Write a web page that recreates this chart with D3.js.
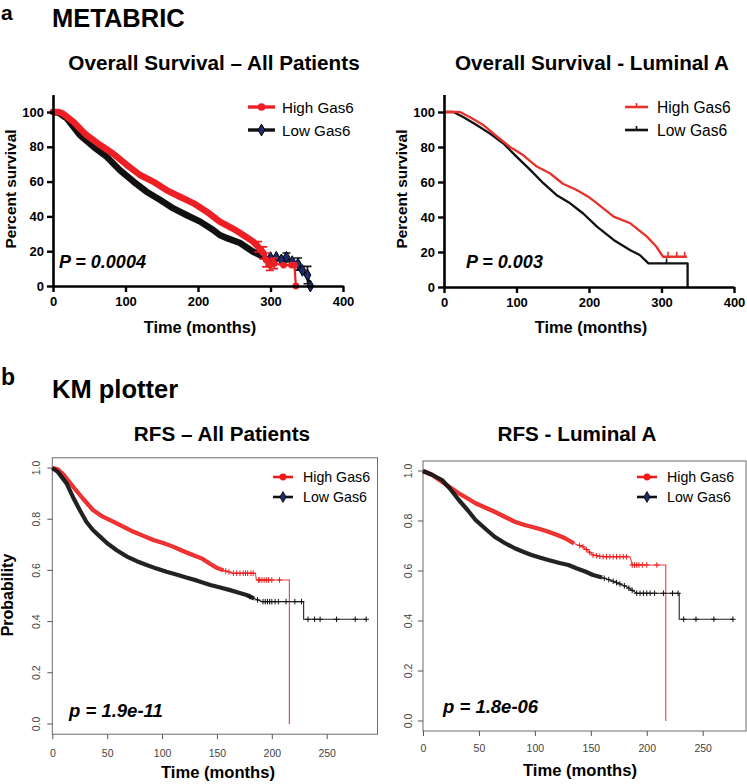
<!DOCTYPE html>
<html><head><meta charset="utf-8">
<script src="https://cdn.jsdelivr.net/npm/d3@7"></script>
<style>
body{margin:0;background:#fff;}
svg{display:block;font-family:"Liberation Sans",Arial,Helvetica,sans-serif;}
</style></head><body>
<svg id="chart" width="747" height="784"></svg>
<script>
// ===== DATA =====
// (a) METABRIC - Overall Survival, All Patients (time in months, percent survival)
const osAllHighT = [0, 8, 14, 28, 46, 65, 83, 102, 120, 138, 157, 175, 194, 212, 230, 248, 258, 267, 276, 283, 290, 294, 299, 305, 318, 329, 333, 335];
const osAllHighS = [100, 100, 99, 94.4, 86.8, 81, 76, 69.5, 63.8, 60, 55, 51.3, 47.5, 42.7, 37, 33, 30.5, 28, 25.5, 22.5, 19, 15, 12, 13, 12, 12, 12, 0];
const osAllLowT = [0, 8, 19, 37, 56, 74, 92, 111, 129, 148, 166, 184, 203, 221, 230, 240, 258, 276, 290, 300, 308, 315, 322, 330, 338, 344, 351, 355];
const osAllLowS = [100, 99.5, 96.4, 86.8, 80, 74.3, 66.7, 60, 54.2, 49.4, 44.6, 40.8, 37, 32.2, 29.3, 27.5, 24.7, 19.7, 16.8, 16.3, 16.5, 15, 16.5, 14, 12.6, 9, 6.3, 0];
const osAllHighErrT = [283, 290, 294, 299, 305];
const osAllHighErrS = [22.5, 19, 15, 12, 13];
const osAllHighErrE = [3, 3.5, 4, 3, 3];
const osAllLowErrT = [322, 338, 351];
const osAllLowErrS = [16.5, 12.6, 6.3];
const osAllLowErrE = [2.5, 3.5, 5];

// (a) METABRIC - Overall Survival, Luminal A
const osLumAHighT = [0, 22, 36, 54, 73, 91, 109, 128, 146, 164, 183, 199, 211, 234, 257, 280, 293, 302, 335];
const osLumAHighS = [100, 100, 97, 92.6, 86, 80, 75.4, 68.8, 65, 59, 55.4, 51.6, 47.8, 40.2, 36.4, 28.8, 23, 17.3, 17.3];
const osLumALowT = [0, 13, 27, 45, 63, 82, 100, 119, 137, 155, 174, 192, 211, 234, 257, 270, 282, 336, 336];
const osLumALowS = [100, 100, 97, 92.6, 87.8, 82, 74.5, 66.9, 59.3, 52.6, 47.8, 42, 34.5, 26.9, 21, 18.3, 13.5, 13.5, 0];
const osLumAHighCensT = [309, 321, 332];
const osLumALowCensT = [307];

// (b) KM plotter - RFS, All Patients (probability)
const rfsAllHighT = [0, 5, 10, 19, 28, 37, 46, 56, 65, 74, 83, 92, 101, 110, 119, 128, 137, 144, 150, 156, 165, 185, 186, 216, 216];
const rfsAllHighS = [1, 0.995, 0.975, 0.927, 0.88, 0.836, 0.81, 0.79, 0.77, 0.751, 0.735, 0.719, 0.707, 0.693, 0.676, 0.66, 0.645, 0.625, 0.61, 0.6, 0.589, 0.589, 0.5625, 0.5625, 0];
const rfsAllLowT = [0, 5, 13, 19, 25, 31, 37, 44, 50, 59, 68, 77, 86, 95, 104, 113, 122, 132, 144, 153, 162, 170, 177, 184, 191, 229, 229, 286];
const rfsAllLowS = [1, 0.985, 0.94, 0.885, 0.836, 0.79, 0.758, 0.73, 0.706, 0.678, 0.654, 0.636, 0.621, 0.607, 0.595, 0.584, 0.572, 0.56, 0.543, 0.533, 0.523, 0.513, 0.504, 0.49, 0.478, 0.478, 0.409, 0.409];
const rfsAllHighCensT = [158, 161, 165, 168, 171, 174, 176, 178, 181, 183, 188, 189, 191, 193, 195, 197, 200, 207];
const rfsAllLowCensT = [180, 187, 192, 194, 196, 198, 200, 203, 206, 213, 221, 227, 233, 239, 244, 259, 276, 286];

// (b) KM plotter - RFS, Luminal A
const rfsLumAHighT = [0, 8, 17, 24, 32, 40, 47, 56, 64, 73, 82, 90, 97, 105, 112, 120, 127, 135, 143, 152, 160, 185, 187, 217, 217];
const rfsLumAHighS = [1, 0.985, 0.957, 0.935, 0.911, 0.89, 0.871, 0.853, 0.837, 0.817, 0.797, 0.785, 0.777, 0.767, 0.757, 0.744, 0.731, 0.71, 0.697, 0.664, 0.657, 0.657, 0.624, 0.624, 0];
const rfsLumALowT = [0, 8, 17, 24, 32, 40, 47, 56, 64, 73, 82, 90, 97, 105, 112, 122, 130, 137, 145, 152, 160, 167, 175, 182, 191, 229, 229, 277];
const rfsLumALowS = [1, 0.985, 0.964, 0.93, 0.884, 0.843, 0.804, 0.768, 0.737, 0.712, 0.691, 0.676, 0.664, 0.653, 0.644, 0.632, 0.624, 0.611, 0.598, 0.584, 0.574, 0.564, 0.55, 0.537, 0.511, 0.511, 0.407, 0.407];
const rfsLumAHighCensT = [140, 143, 146, 149, 152, 155, 158, 161, 164, 167, 170, 173, 176, 179, 182, 187, 189, 191, 193, 196, 200, 209];
const rfsLumALowCensT = [162, 166, 170, 173, 176, 180, 184, 187, 191, 194, 197, 200, 203, 207, 215, 223, 228, 233, 244, 260, 277];

// tick labels
const gpXTicks = [0, 100, 200, 300, 400];
const gpYTicks = [0, 20, 40, 60, 80, 100];
const rXTicks = [0, 50, 100, 150, 200, 250];
const rYTicks = [0, 0.2, 0.4, 0.6, 0.8, 1.0];
const legendLabels = ["High Gas6", "Low Gas6"];

// ===== DRAWING =====
const svg = d3.select('#chart');
const FONT = '"Liberation Sans", Arial, Helvetica, sans-serif';
const RED = '#ee1f24', BLACK = '#111111', NAVY = '#1d2c6e';

function text(x, y, str, o = {}) {
  const t = svg.append('text').attr('x', x).attr('y', y).text(str)
    .attr('font-family', FONT)
    .attr('font-size', o.size || 14).attr('font-weight', o.weight || 'normal')
    .attr('font-style', o.style || 'normal').attr('text-anchor', o.anchor || 'start')
    .attr('fill', o.fill || '#000');
  if (o.rotate) t.attr('transform', `rotate(${o.rotate},${x},${y})`);
  return t;
}

function onCurve(t, T, S) {
  // position on the drawn polyline for a censor mark
  for (let i = T.length - 1; i >= 0; i--) {
    if (T[i] <= t) {
      if (i === T.length - 1 || T[i + 1] === T[i]) return S[i];
      const f = (t - T[i]) / (T[i + 1] - T[i]);
      return S[i] + f * (S[i + 1] - S[i]);
    }
  }
  return S[0];
}

// ---------- GraphPad-style panels ----------
function gpPanel(c) {
  const x = d3.scaleLinear().domain([0, 400]).range([c.x0, c.x1]);
  const y = d3.scaleLinear().domain([0, 110]).range([c.y0, c.y1]);
  const g = svg.append('g');
  const line = d3.line().x(d => x(d[0])).y(d => y(d[1]));

  c.series.forEach(s => {
    const pts = d3.zip(s.t, s.s);
    if (s.band) {
      g.append('path').attr('d', line(pts.filter(p => p[0] <= s.band)))
        .attr('fill', 'none').attr('stroke', s.color).attr('stroke-width', s.bandW)
        .attr('stroke-linejoin', 'round').attr('stroke-linecap', 'round');
    }
    g.append('path').attr('d', line(pts)).attr('fill', 'none')
      .attr('stroke', s.color).attr('stroke-width', s.w).attr('stroke-linejoin', 'round');
    if (s.errT) {
      s.errT.forEach((t, i) => {
        const cx = x(t), ya = y(s.errS[i] + s.errE[i]), yb = y(s.errS[i] - s.errE[i]);
        g.append('path').attr('d', `M${cx},${ya}V${yb}M${cx - 4},${ya}H${cx + 4}M${cx - 4},${yb}H${cx + 4}`)
          .attr('stroke', s.color).attr('stroke-width', 1.6).attr('fill', 'none');
      });
    }
    const tail = pts.filter(p => p[0] > (s.band || 0));
    if (s.marker === 'circle') {
      g.selectAll(null).data(tail).join('circle')
        .attr('cx', d => x(d[0])).attr('cy', d => y(d[1])).attr('r', 3.4).attr('fill', s.color);
    } else if (s.marker === 'diamond') {
      g.selectAll(null).data(tail).join('path')
        .attr('d', d3.symbol(d3.symbolDiamond).size(40))
        .attr('transform', d => `translate(${x(d[0])},${y(d[1])})`)
        .attr('fill', NAVY).attr('stroke', '#000').attr('stroke-width', 1);
    }
    if (s.censT) {
      s.censT.forEach(t => {
        const cx = x(t), cy = y(onCurve(t, s.t, s.s));
        g.append('path').attr('d', `M${cx},${cy}V${cy - 5}`).attr('stroke', s.color).attr('stroke-width', 1.6);
      });
    }
  });

  const styleAxis = (sel) => {
    sel.attr('font-family', FONT).attr('font-size', 13).attr('font-weight', 'bold');
    sel.select('.domain').attr('stroke', '#000').attr('stroke-width', 2.6);
    sel.selectAll('.tick line').attr('stroke', '#000').attr('stroke-width', 2.4);
    sel.selectAll('.tick text').attr('fill', '#000');
  };
  g.append('g').attr('transform', `translate(0,${c.y0})`)
    .call(d3.axisBottom(x).tickValues(gpXTicks).tickSize(6).tickSizeOuter(0).tickPadding(5))
    .call(styleAxis);
  g.append('g').attr('transform', `translate(${c.x0},0)`)
    .call(d3.axisLeft(y).tickValues(gpYTicks).tickSize(6).tickSizeOuter(0).tickPadding(3).tickFormat(d3.format('d')))
    .call(styleAxis);

  // titles
  text((c.x0 + c.x1) / 2 + c.xLabDx, 333, 'Time (months)', { size: 16.4, weight: 'bold', anchor: 'middle' });
  text(c.yLabX, 189, 'Percent survival', { size: 15.4, weight: 'bold', anchor: 'middle', rotate: -90 });
  text(c.titleX, 70, c.title, { size: 20.7, weight: 'bold', anchor: 'middle' });
  text(c.pX, 268, c.p, { size: 18, weight: 'bold', style: 'italic' });

  // legend
  c.legend.forEach((s, i) => {
    const ly = c.legY[i];
    svg.append('line').attr('x1', c.legX0).attr('x2', c.legX1).attr('y1', ly).attr('y2', ly)
      .attr('stroke', s.color).attr('stroke-width', c.legW);
    const mx = (c.legX0 + c.legX1) / 2;
    if (s.marker === 'circle') svg.append('circle').attr('cx', mx).attr('cy', ly).attr('r', 3.8).attr('fill', s.color);
    else if (s.marker === 'diamond') svg.append('path').attr('d', d3.symbol(d3.symbolDiamond).size(40))
      .attr('transform', `translate(${mx},${ly})`).attr('fill', NAVY).attr('stroke', '#000').attr('stroke-width', 1);
    else svg.append('path').attr('d', `M${mx},${ly}V${ly - 4}`).attr('stroke', s.color).attr('stroke-width', 1.6);
    text(c.legTextX, ly + 5.5, legendLabels[i], { size: c.legSize });
  });
}

// ---------- R (KM plotter) panels ----------
function rPanel(c) {
  const x = d3.scaleLinear().domain([0, c.xmax]).range([c.x0, c.x1]);
  const y = d3.scaleLinear().domain([-0.04, 1.04]).range([c.y0, c.y1]);
  const g = svg.append('g');
  const line = d3.line().x(d => x(d[0])).y(d => y(d[1]));

  g.append('rect').attr('x', c.x0).attr('y', c.y1).attr('width', c.x1 - c.x0).attr('height', c.y0 - c.y1)
    .attr('fill', 'none').attr('stroke', '#6b6b6b').attr('stroke-width', 1);

  c.series.forEach(s => {
    const pts = d3.zip(s.t, s.s);
    g.append('path').attr('d', line(pts.filter(p => p[0] <= s.band)))
      .attr('fill', 'none').attr('stroke', s.color).attr('stroke-width', 4.2)
      .attr('stroke-linejoin', 'round').attr('stroke-opacity', 0.92);
    g.append('path').attr('d', line(pts)).attr('fill', 'none')
      .attr('stroke', s.thin).attr('stroke-width', 1.1);
    s.censT.forEach(t => {
      const cx = x(t), cy = y(onCurve(t, s.t, s.s));
      g.append('path').attr('d', `M${cx - 2.8},${cy}H${cx + 2.8}M${cx},${cy - 2.8}V${cy + 2.8}`)
        .attr('stroke', s.color).attr('stroke-width', 1);
    });
  });

  // axes
  const xa = g.append('g').attr('transform', `translate(0,${c.y0})`)
    .call(d3.axisBottom(x).tickValues(rXTicks).tickSize(5).tickSizeOuter(0).tickPadding(c.xPad));
  xa.select('.domain').remove();
  xa.selectAll('.tick line').attr('stroke', '#555');
  xa.selectAll('.tick text').attr('fill', '#444').attr('font-family', FONT).attr('font-size', 10.5);
  rYTicks.forEach(v => {
    g.append('line').attr('x1', c.x0 - 5).attr('x2', c.x0).attr('y1', y(v)).attr('y2', y(v)).attr('stroke', '#555');
    text(c.x0 - c.yLabOff, y(v), d3.format('.1f')(v), { size: 10.5, anchor: 'middle', rotate: -90, fill: '#444' });
  });

  text(c.xLabX, c.xLabY, 'Time (months)', { size: 16.6, weight: 'bold', anchor: 'middle' });
  text(c.titleX, 441, c.title, { size: 20.7, weight: 'bold', anchor: 'middle' });
  text(c.pX, c.pY, c.p, { size: 18.5, weight: 'bold', style: 'italic' });

  c.series.forEach((s, i) => {
    const ly = 477 + i * 20;
    svg.append('line').attr('x1', c.legX0).attr('x2', c.legX0 + 20).attr('y1', ly).attr('y2', ly)
      .attr('stroke', s.color).attr('stroke-width', 2.6);
    const mx = c.legX0 + 10;
    if (i === 0) svg.append('circle').attr('cx', mx).attr('cy', ly).attr('r', 3.4).attr('fill', s.color);
    else svg.append('path').attr('d', d3.symbol(d3.symbolDiamond).size(34))
      .attr('transform', `translate(${mx},${ly})`).attr('fill', NAVY).attr('stroke', '#000').attr('stroke-width', 0.8);
    text(c.legX0 + 30, ly + 5, legendLabels[i], { size: 14.2 });
  });
}

// ---------- headers ----------
text(1, 20, 'a', { size: 21, weight: 'bold' });
text(52, 27, 'METABRIC', { size: 25.5, weight: 'bold' });
text(1, 385, 'b', { size: 23, weight: 'bold' });
text(52, 398, 'KM plotter', { size: 25.5, weight: 'bold' });

const osAllHigh = { t: osAllHighT, s: osAllHighS, color: RED, w: 2.2, band: 291, bandW: 6.5, marker: 'circle',
  errT: osAllHighErrT, errS: osAllHighErrS, errE: osAllHighErrE };
const osAllLow = { t: osAllLowT, s: osAllLowS, color: BLACK, w: 2.2, band: 296, bandW: 6.5, marker: 'diamond',
  errT: osAllLowErrT, errS: osAllLowErrS, errE: osAllLowErrE };

gpPanel({
  x0: 53, x1: 343, y0: 286, y1: 286 - 110 * 1.74,
  title: 'Overall Survival \u2013 All Patients', titleX: 214, xLabDx: 2, yLabX: 15.5,
  p: 'P = 0.0004', pX: 59,
  legX0: 248, legX1: 275, legY: [107, 130], legTextX: 282, legSize: 15.2, legW: 3.4,
  series: [osAllLow, osAllHigh],
  legend: [osAllHigh, osAllLow]
});

const osLumAHigh = { t: osLumAHighT, s: osLumAHighS, color: '#e9302a', w: 2.3, censT: osLumAHighCensT };
const osLumALow = { t: osLumALowT, s: osLumALowS, color: BLACK, w: 2.3, censT: osLumALowCensT };
gpPanel({
  x0: 444, x1: 734, y0: 287, y1: 287 - 110 * 1.75,
  title: 'Overall Survival - Luminal A', titleX: 592, xLabDx: 2, yLabX: 406.5,
  p: 'P = 0.003', pX: 466,
  legX0: 625, legX1: 648, legY: [107, 130], legTextX: 657, legSize: 15.6, legW: 2.6,
  series: [osLumALow, osLumAHigh],
  legend: [osLumAHigh, osLumALow]
});

rPanel({
  x0: 52.3, x1: 377.5, y0: 734.2, y1: 457.8, xmax: 296.3,
  title: 'RFS \u2013 All Patients', titleX: 222,
  p: 'p = 1.9e-11', pX: 69, pY: 717,
  xPad: 10, yLabOff: 12.5, xLabX: 218, xLabY: 778, legX0: 273,
  series: [
    { t: rfsAllHighT, s: rfsAllHighS, color: '#f01818', thin: '#e84040', band: 158, censT: rfsAllHighCensT },
    { t: rfsAllLowT, s: rfsAllLowS, color: BLACK, thin: '#222', band: 190, censT: rfsAllLowCensT }
  ]
});

rPanel({
  x0: 423, x1: 746, y0: 731, y1: 461, xmax: 288.7,
  title: 'RFS - Luminal A', titleX: 577,
  p: 'p = 1.8e-06', pX: 443, pY: 713,
  xPad: 9, yLabOff: 11.5, xLabX: 580, xLabY: 776, legX0: 637,
  series: [
    { t: rfsLumAHighT, s: rfsLumAHighS, color: '#f01818', thin: '#e84040', band: 140, censT: rfsLumAHighCensT },
    { t: rfsLumALowT, s: rfsLumALowS, color: BLACK, thin: '#222', band: 162, censT: rfsLumALowCensT }
  ]
});

// Y-axis label for the KM plotter row
text(12.5, 595, 'Probability', { size: 16, weight: 'bold', anchor: 'middle', rotate: -90 });
</script>
</body></html>
